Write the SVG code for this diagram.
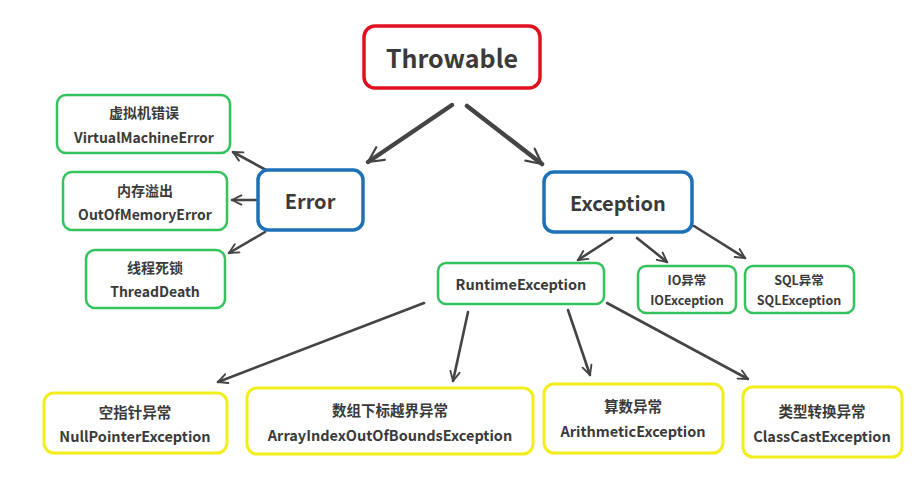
<svg xmlns="http://www.w3.org/2000/svg" width="923" height="492" viewBox="0 0 923 492">
<defs>
<style>
.t{font-family:"Noto Sans CJK SC","Noto Sans",sans-serif;font-weight:bold;fill:#3a3a3a;text-anchor:middle}
.red{fill:#fff;stroke:#e01020;stroke-width:3.5}
.blue{fill:#fff;stroke:#1e70b8;stroke-width:3.5}
.green{fill:#fff;stroke:#34c25c;stroke-width:2.5}
.yellow{fill:#fff;stroke:#f2ee1c;stroke-width:3}
.c{stroke:#444;fill:none;stroke-linecap:round}
.c1{stroke-width:4.5}
.c2{stroke-width:2.6}
</style>
<marker id="ah" viewBox="0 0 10 10" refX="9" refY="5" markerWidth="4.5" markerHeight="4.5" orient="auto" markerUnits="strokeWidth">
<path d="M1,1 L9,5 L1,9" fill="none" stroke="#444" stroke-width="1.6" stroke-linecap="round" stroke-linejoin="round"/>
</marker>
<marker id="ah1" viewBox="0 0 10 10" refX="9" refY="5" markerWidth="4.2" markerHeight="4.2" orient="auto" markerUnits="strokeWidth">
<path d="M1,1 L9,5 L1,9" fill="none" stroke="#444" stroke-width="1.2" stroke-linecap="round" stroke-linejoin="round"/>
</marker>
</defs>
<rect width="923" height="492" fill="#fff"/>
<g id="connectors">
<line class="c c1" x1="452" y1="105" x2="368" y2="162" marker-end="url(#ah1)"/>
<line class="c c1" x1="467" y1="106" x2="542" y2="164" marker-end="url(#ah1)"/>
<line class="c c2" x1="266" y1="170" x2="233" y2="152" marker-end="url(#ah)"/>
<line class="c c2" x1="256" y1="200" x2="232" y2="200" marker-end="url(#ah)"/>
<line class="c c2" x1="265" y1="232" x2="229" y2="253" marker-end="url(#ah)"/>
<line class="c c2" x1="612" y1="238" x2="578" y2="260" marker-end="url(#ah)"/>
<line class="c c2" x1="637" y1="238" x2="667" y2="262" marker-end="url(#ah)"/>
<line class="c c2" x1="694" y1="226" x2="745" y2="258" marker-end="url(#ah)"/>
<line class="c c2" x1="424" y1="303" x2="218" y2="382" marker-end="url(#ah)"/>
<line class="c c2" x1="468" y1="312" x2="453" y2="381" marker-end="url(#ah)"/>
<line class="c c2" x1="568" y1="310" x2="590" y2="375" marker-end="url(#ah)"/>
<line class="c c2" x1="607" y1="303" x2="748" y2="379" marker-end="url(#ah)"/>
</g>
<g id="throwable">
<rect class="red" x="364" y="26" width="176" height="62" rx="11"/>
<text class="t" x="452" y="68" font-size="25">Throwable</text>
</g>
<g id="error">
<rect class="blue" x="258" y="170" width="105" height="60" rx="10"/>
<text class="t" x="310" y="209" font-size="20">Error</text>
</g>
<g id="exception">
<rect class="blue" x="544" y="172" width="148" height="60" rx="10"/>
<text class="t" x="618" y="211" font-size="20">Exception</text>
</g>
<g id="vmerror">
<rect class="green" x="57" y="95" width="173" height="58" rx="9"/>
<text class="t" x="144" y="118" font-size="14">虚拟机错误</text>
<text class="t" x="144" y="143" font-size="14">VirtualMachineError</text>
</g>
<g id="oom">
<rect class="green" x="63" y="172" width="164" height="58" rx="9"/>
<text class="t" x="145" y="196" font-size="14">内存溢出</text>
<text class="t" x="145" y="220" font-size="14">OutOfMemoryError</text>
</g>
<g id="threaddeath">
<rect class="green" x="86" y="250" width="139" height="58" rx="9"/>
<text class="t" x="155" y="273" font-size="14">线程死锁</text>
<text class="t" x="155" y="297" font-size="14">ThreadDeath</text>
</g>
<g id="runtime">
<rect class="green" x="438" y="263" width="166" height="41" rx="8"/>
<text class="t" x="521" y="290" font-size="14.5">RuntimeException</text>
</g>
<g id="ioexception">
<rect class="green" x="638" y="266" width="98" height="47" rx="8"/>
<text class="t" x="687" y="285" font-size="12.5">IO异常</text>
<text class="t" x="687" y="305" font-size="12.5">IOException</text>
</g>
<g id="sqlexception">
<rect class="green" x="745" y="266" width="109" height="47" rx="8"/>
<text class="t" x="799" y="285" font-size="12.5">SQL异常</text>
<text class="t" x="799" y="305" font-size="12.5">SQLException</text>
</g>
<g id="npe">
<rect class="yellow" x="44" y="393" width="183" height="60" rx="10"/>
<text class="t" x="135" y="418" font-size="14.5">空指针异常</text>
<text class="t" x="135" y="442" font-size="14.5">NullPointerException</text>
</g>
<g id="aioobe">
<rect class="yellow" x="247" y="388" width="286" height="66" rx="10"/>
<text class="t" x="390" y="416" font-size="14.5">数组下标越界异常</text>
<text class="t" x="390" y="441" font-size="14.5">ArrayIndexOutOfBoundsException</text>
</g>
<g id="arith">
<rect class="yellow" x="544" y="384" width="179" height="69" rx="10"/>
<text class="t" x="633" y="412" font-size="14.5">算数异常</text>
<text class="t" x="633" y="437" font-size="14.5">ArithmeticException</text>
</g>
<g id="classcast">
<rect class="yellow" x="743" y="387" width="159" height="70" rx="10"/>
<text class="t" x="822" y="417" font-size="14.5">类型转换异常</text>
<text class="t" x="822" y="442" font-size="14.5">ClassCastException</text>
</g>
</svg>
